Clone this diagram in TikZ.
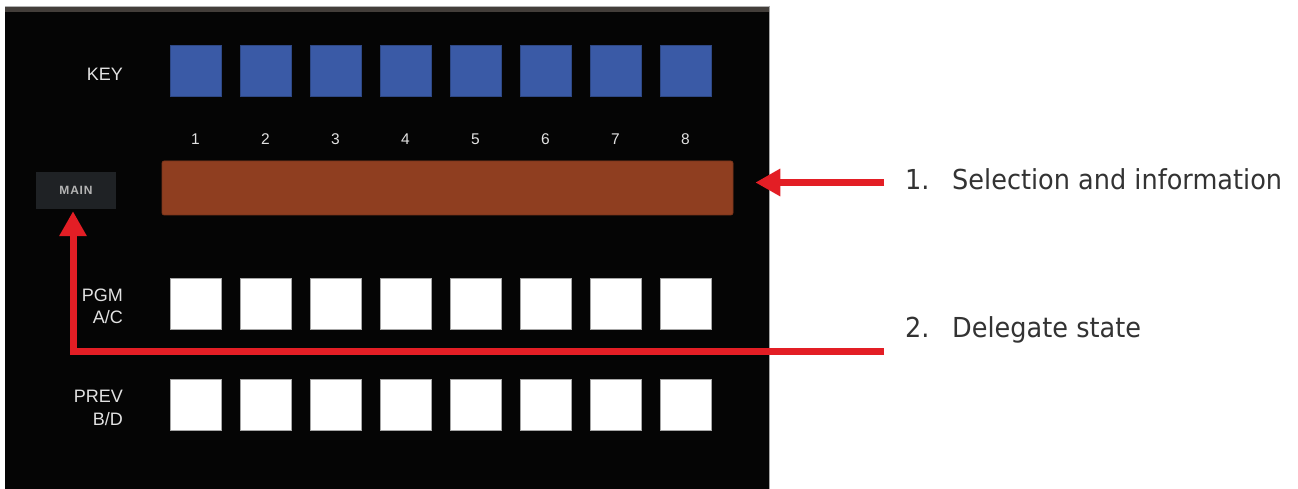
\documentclass[tikz,border=0pt]{standalone}
\usepackage{fontspec}
\setmainfont{Liberation Sans}
\newfontfamily\notefont[FakeStretch=0.93]{DejaVu Sans}
\usetikzlibrary{arrows.meta}
\definecolor{panelbg}{HTML}{050505}
\definecolor{topbar}{HTML}{433E3A}
\definecolor{keyblue}{HTML}{3A5AA6}
\definecolor{infobar}{HTML}{8F3E20}
\definecolor{mainbg}{HTML}{1F2225}
\definecolor{mainfg}{HTML}{B4B4B4}
\definecolor{arrowred}{HTML}{E31E25}
\definecolor{labelfg}{HTML}{E2E2E2}
\definecolor{notefg}{HTML}{333333}
\tikzset{
  x=1pt, y=-1pt,
  keybtn/.style={fill=keyblue, draw=keyblue!80!black, line width=0.6pt, minimum size=51pt, inner sep=0pt},
  whitebtn/.style={fill=white, draw=gray!70, line width=0.6pt, minimum size=51pt, inner sep=0pt},
  numlabel/.style={text=labelfg, font=\fontsize{15.5}{18}\selectfont, inner sep=0pt},
  rowlabel/.style={text=labelfg, font=\fontsize{18}{21}\selectfont, inner sep=0pt, anchor=base east},
  notetext/.style={text=notefg, font=\notefont\fontsize{27.5}{32}\selectfont, inner sep=0pt, anchor=base west},
  redarrow/.style={draw=arrowred, line width=7pt, -{Triangle[length=25pt,width=26pt]}},
}
\begin{document}
\begin{tikzpicture}
\useasboundingbox (0,0) rectangle (1298,489);
\fill[white] (0,0) rectangle (1298,489);
% panel
\fill[panelbg] (5,6) rectangle (769,489);
\fill[topbar] (5,6) rectangle (769,12);
\draw[gray!60, line width=0.8pt] (5,6) -- (769,6);
\draw[gray!70, line width=1pt] (769,6) -- (769,489);

% KEY row
\node[rowlabel] (keylab) at (123,81) {KEY};
\foreach \i in {1,...,8} {
  \node[keybtn] (k\i) at ({195.5+70*(\i-1)},70.5) {};
  \node[numlabel] (n\i) at ({195.5+70*(\i-1)},139.5) {\i};
}

% info bar
\node[fill=infobar, draw=infobar!85!black, line width=0.6pt, rounded corners=2pt,
      minimum width=571pt, minimum height=54pt, inner sep=0pt] (info) at (447.5,188) {};

% MAIN button
\node[fill=mainbg, minimum width=80pt, minimum height=37pt, inner sep=0pt,
      text=mainfg, font=\bfseries\fontsize{12}{14}\selectfont] (main) at (76,190.5) {M\kern0.8pt A\kern0.8pt I\kern0.8pt N};

% PGM row
\node[rowlabel] (pgm1) at (123,301) {PGM};
\node[rowlabel] (pgm2) at (123,323) {A/C};
\foreach \i in {1,...,8} {
  \node[whitebtn] (p\i) at ({195.5+70*(\i-1)},303.5) {};
}

% PREV row
\node[rowlabel] (prev1) at (123,402) {PREV};
\node[rowlabel] (prev2) at (123,425) {B/D};
\foreach \i in {1,...,8} {
  \node[whitebtn] (v\i) at ({195.5+70*(\i-1)},404.5) {};
}

% notes
\node[notetext] (t1n) at (905,190) {1.};
\node[notetext] (t1) at (952,190) {Selection and information};
\node[notetext] (t2n) at (905,337) {2.};
\node[notetext] (t2) at (952,337) {Delegate state};

% arrows
\coordinate (c1) at (884,182.5);
\coordinate (c2) at (884,351);
\draw[redarrow, shorten >=22pt] (c1) -- (c1 -| info.east);
\draw[redarrow, shorten >=2pt] (c2) -| ([xshift=-3pt]main.south);
\end{tikzpicture}
\end{document}
